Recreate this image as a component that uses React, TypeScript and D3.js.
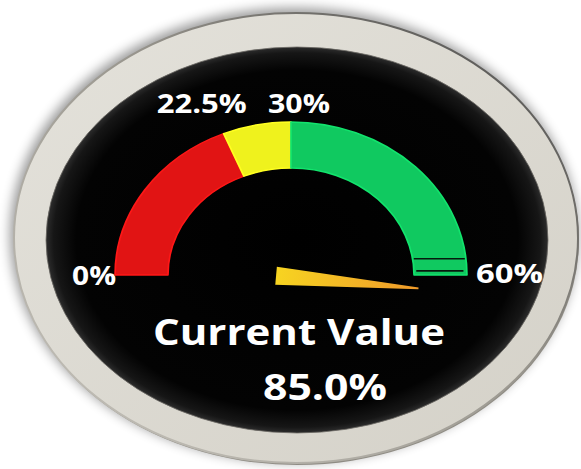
import * as d3 from 'd3';

// gauge data
const THRESHOLDS = [0, 22.5, 30, 60];
const BAND_COLORS = ['#e11414', '#eff21d', '#10c960'];
const TICK_LABELS = ['0%', '22.5%', '30%', '60%'];
const MARKER_VALUES = [57.6, 59.4];
const POINTER_POSITION = 61.7;
const CURRENT_VALUE = 85.0;
const TITLE = 'Current Value';

const WIDTH = 581;
const HEIGHT = 469;

const BEZEL = { cx: 296, cy: 238, rx: 282, ry: 225 };
const FACE = { cx: 297, cy: 240, rx: 251, ry: 193 };
const GAUGE = { cx: 291, cy: 275, outer: 153, inner: 107, sx: 1.15 };

// where each tick label sits relative to its point on the outer rim
const LABEL_LAYOUT = [
    { dx: -43, dy: 10, len: 44 },
    { dx: -67, dy: -21, len: 90 },
    { dx: -23, dy: -9, len: 62 },
    { dx: 9, dy: 8, len: 67 },
];

const FONT = '"Open Sans", Lato, sans-serif';

type Band = { start: number; end: number; color: string };

export default function App() {
    const angle = d3
        .scaleLinear()
        .domain([THRESHOLDS[0], THRESHOLDS[THRESHOLDS.length - 1]])
        .range([-Math.PI / 2, Math.PI / 2]);

    const bands: Band[] = BAND_COLORS.map((color, i) => ({
        start: THRESHOLDS[i],
        end: THRESHOLDS[i + 1],
        color,
    }));

    const arc = d3
        .arc<Band>()
        .innerRadius(GAUGE.inner)
        .outerRadius(GAUGE.outer)
        .startAngle((d) => angle(d.start))
        .endAngle((d) => angle(d.end));

    const rimPoint = (v: number, r: number) => {
        const a = angle(v);
        return [GAUGE.cx + GAUGE.sx * r * Math.sin(a), GAUGE.cy - r * Math.cos(a)];
    };

    const needleDeg = ((angle(POINTER_POSITION) - Math.PI / 2) * 180) / Math.PI;
    const needlePath = d3.line()([
        [-15, -9],
        [128, -1],
        [128, 1],
        [-15, 9],
    ]) + 'Z';

    return (
        <svg
            width={WIDTH}
            height={HEIGHT}
            style={{ position: 'absolute', left: 0, top: 0, background: '#fff' }}
        >
            <defs>
                <filter id="blur" x="-20%" y="-20%" width="140%" height="140%">
                    <feGaussianBlur stdDeviation={6} />
                </filter>
                <linearGradient id="bezelFill" x1="0" y1="0" x2="1" y2="1">
                    <stop offset="0%" stopColor="#e4e2db" />
                    <stop offset="100%" stopColor="#d4d1c8" />
                </linearGradient>
                <linearGradient id="bezelRim" x1="0" y1="1" x2="1" y2="0">
                    <stop offset="0%" stopColor="#c9c6be" />
                    <stop offset="55%" stopColor="#9a978f" />
                    <stop offset="100%" stopColor="#444" />
                </linearGradient>
                <radialGradient id="faceFill" cx="50%" cy="50%" r="50%">
                    <stop offset="0%" stopColor="#000" />
                    <stop offset="88%" stopColor="#030303" />
                    <stop offset="97%" stopColor="#161616" />
                    <stop offset="100%" stopColor="#2c2c2c" />
                </radialGradient>
                <linearGradient id="needleFill" x1="0" y1="0" x2="1" y2="0">
                    <stop offset="0%" stopColor="#f7d421" />
                    <stop offset="100%" stopColor="#ef9a2a" />
                </linearGradient>
            </defs>

            {/* bezel */}
            <ellipse
                cx={BEZEL.cx - 2}
                cy={BEZEL.cy - 3}
                rx={BEZEL.rx + 2}
                ry={BEZEL.ry + 2}
                fill="#000"
                opacity={0.4}
                filter="url(#blur)"
            />
            <ellipse cx={BEZEL.cx + 1} cy={BEZEL.cy + 2} rx={BEZEL.rx} ry={BEZEL.ry} fill="#8f8c84" />
            <ellipse
                cx={BEZEL.cx}
                cy={BEZEL.cy}
                rx={BEZEL.rx}
                ry={BEZEL.ry}
                fill="url(#bezelFill)"
                stroke="url(#bezelRim)"
                strokeWidth={2}
            />
            <ellipse
                cx={FACE.cx}
                cy={FACE.cy}
                rx={FACE.rx}
                ry={FACE.ry}
                fill="url(#faceFill)"
                stroke="#6d6b66"
                strokeWidth={0.8}
            />

            {/* tick labels, drawn under the bands */}
            {THRESHOLDS.map((v, i) => {
                const [x, y] = rimPoint(v, GAUGE.outer);
                const l = LABEL_LAYOUT[i];
                return (
                    <text
                        key={v}
                        x={x + l.dx}
                        y={y + l.dy}
                        textLength={l.len}
                        lengthAdjust="spacingAndGlyphs"
                        fill="#fff"
                        fontSize={26}
                        fontWeight={700}
                        fontFamily={FONT}
                    >
                        {TICK_LABELS[i]}
                    </text>
                );
            })}

            {/* bands */}
            <g transform={`translate(${GAUGE.cx},${GAUGE.cy}) scale(${GAUGE.sx},1)`}>
                {bands.map((b) => (
                    <path
                        key={b.start}
                        d={arc(b) ?? ''}
                        fill={b.color}
                        stroke={d3.color(b.color)?.brighter(0.35).formatHex()}
                        strokeWidth={1.5}
                        strokeLinejoin="round"
                    />
                ))}
                {MARKER_VALUES.map((v, i) => {
                    // thin flat strokes across the end of the green band
                    const a = angle(v);
                    const y = -((GAUGE.inner + GAUGE.outer) / 2) * Math.cos(a);
                    const x0 = Math.sqrt(GAUGE.inner ** 2 - y * y) + 1 + i;
                    const x1 = Math.sqrt(GAUGE.outer ** 2 - y * y) - 1 - i * 2;
                    return (
                        <line
                            key={v}
                            x1={x0}
                            y1={y}
                            x2={x1}
                            y2={y}
                            stroke="#061a0e"
                            strokeWidth={1.6}
                        />
                    );
                })}
            </g>

            {/* needle */}
            <path
                d={needlePath}
                transform={`translate(${GAUGE.cx},${GAUGE.cy + 2}) rotate(${needleDeg})`}
                fill="url(#needleFill)"
            />

            <text
                x={153}
                y={345}
                textLength={292}
                lengthAdjust="spacingAndGlyphs"
                fill="#fff"
                fontSize={36}
                fontWeight={700}
                fontFamily={FONT}
            >
                {TITLE}
            </text>
            <text
                x={263}
                y={400}
                textLength={124}
                lengthAdjust="spacingAndGlyphs"
                fill="#fff"
                fontSize={35}
                fontWeight={700}
                fontFamily={FONT}
            >
                {`${d3.format('.1f')(CURRENT_VALUE)}%`}
            </text>
        </svg>
    );
}
